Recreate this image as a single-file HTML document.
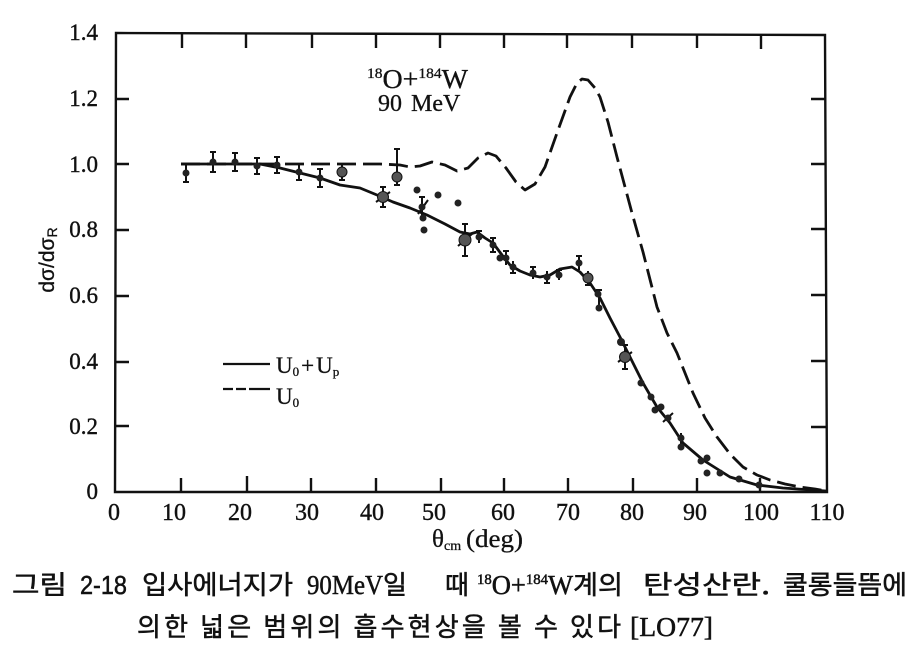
<!DOCTYPE html>
<html><head><meta charset="utf-8"><style>
html,body{margin:0;padding:0;background:#fff;}
svg{display:block;}
</style></head><body>
<svg width="911" height="647" viewBox="0 0 911 647" xmlns="http://www.w3.org/2000/svg">
<rect width="911" height="647" fill="#fff"/>
<!-- frame -->
<g fill="none" stroke="#111" stroke-width="2.4">
<path d="M116,33 L825,35 L827,492 L115,492 Z"/>
<path d="M182,34V48 M246,34V48 M312,34V48 M376,34V48 M440,34V48 M504,34V48 M567,34V48 M632,34V48 M697,34V48 M761,35V49"/>
<path d="M181,492V478 M247,492V476 M311,492V478 M376,492V478 M441,492V478 M504,492V478 M568,492V478 M633,492V478 M697,492V478 M760,492V478"/>
<path d="M116,99H129 M116,164H129 M116,230H129 M116,296H129 M116,362H129 M116,426H129"/>
<path d="M826,99H811 M826,164H811 M826,229H811 M826,295H811 M826,361H811 M826,427H811"/>
</g>
<!-- y tick labels -->
<g font-family="Liberation Serif, serif" font-size="23" fill="#111" stroke="#111" stroke-width="0.4" text-anchor="end">
<text x="98" y="40">1.4</text>
<text x="98" y="106">1.2</text>
<text x="98" y="172">1.0</text>
<text x="98" y="237">0.8</text>
<text x="98" y="303">0.6</text>
<text x="98" y="369">0.4</text>
<text x="98" y="434">0.2</text>
<text x="98" y="499">0</text>
</g>
<!-- x tick labels -->
<g font-family="Liberation Serif, serif" font-size="24" fill="#111" stroke="#111" stroke-width="0.4" text-anchor="middle">
<text x="114" y="520">0</text>
<text x="174" y="520">10</text>
<text x="240" y="520">20</text>
<text x="307" y="520">30</text>
<text x="372" y="520">40</text>
<text x="434" y="520">50</text>
<text x="503" y="520">60</text>
<text x="568" y="520">70</text>
<text x="632" y="520">80</text>
<text x="695" y="520">90</text>
<text x="761" y="520">100</text>
<text x="827" y="520">110</text>
</g>
<!-- axis labels -->
<text transform="translate(54,260) rotate(-90)" font-family="Liberation Sans, sans-serif" font-size="21" fill="#111" stroke="#111" stroke-width="0.3" text-anchor="middle">dσ/dσ<tspan font-size="14" dy="3">R</tspan></text>
<text x="432" y="547" font-family="Liberation Serif, serif" font-size="25" fill="#111" stroke="#111" stroke-width="0.3">θ<tspan font-size="14" dy="3">cm</tspan><tspan dy="-3" x="466" textLength="57" lengthAdjust="spacingAndGlyphs">(deg)</tspan></text>
<!-- annotation -->
<text x="367" y="88" font-family="Liberation Serif, serif" font-size="27" fill="#111" stroke="#111" stroke-width="0.3" textLength="101" lengthAdjust="spacingAndGlyphs"><tspan font-size="15" dy="-10">18</tspan><tspan dy="10">O+</tspan><tspan font-size="15" dy="-10">184</tspan><tspan dy="10">W</tspan></text>
<text x="378" y="111" font-family="Liberation Serif, serif" font-size="24" fill="#111" stroke="#111" stroke-width="0.3"><tspan>90</tspan><tspan x="411">MeV</tspan></text>
<!-- legend -->
<line x1="223" y1="364" x2="270" y2="364" stroke="#111" stroke-width="2.2"/>
<line x1="223" y1="389" x2="270" y2="389" stroke="#111" stroke-width="2.2" stroke-dasharray="10 3 10 3 30"/>
<text x="276" y="373" font-family="Liberation Serif, serif" font-size="23" fill="#111" stroke="#111" stroke-width="0.3">U<tspan font-size="13" dy="3">0</tspan><tspan dy="-3" dx="2">+</tspan><tspan dx="2">U</tspan><tspan font-size="13" dy="3">p</tspan></text>
<text x="276" y="404" font-family="Liberation Serif, serif" font-size="23" fill="#111" stroke="#111" stroke-width="0.3">U<tspan font-size="13" dy="3">0</tspan></text>
<!-- U0 dashed curve -->
<polyline fill="none" stroke="#111" stroke-width="2.8" stroke-dasharray="19 7" stroke-linejoin="round"
points="181,164 250,164 330,164 380,164 400,165 410,167 420,166 432,162 445,165 457,171 468,168 478,158 488,153 496,156 506,168 516,182 525,190 535,184 545,167 557,133 570,97 577,83 582,79 588,80 595,88 600,97 608,122 617,157 632,213 643,252 657,307 667,333 677,353 693,393 705,418 717,437 730,454 743,467 757,475 770,480 785,484 800,487 815,489 826,491"/>
<!-- U0+Up solid curve -->
<polyline fill="none" stroke="#111" stroke-width="2.8" stroke-linejoin="round"
points="181,164 260,164 280,168 300,173 320,178 340,185 360,188 377,195 393,202 410,208 427,215 445,224 460,232 470,234 477,232 485,238 493,243 502,255 510,265 520,271 530,275 540,277 550,275 560,269 572,267 580,272 590,283 600,298 610,318 620,337 633,363 643,383 657,407 670,423 683,443 703,460 730,477 757,485 783,488 826,491"/>
<!-- error bars -->
<g fill="none" stroke="#111" stroke-width="2">
<path d="M186,164V182M183,164H189M183,182H189
M213,152V172M210,152H216M210,172H216
M235,153V171M232,153H238M232,171H238
M257,158V174M254,158H260M254,174H260
M277,157V173M274,157H280M274,173H280
M299,164V180M296,164H302M296,180H302
M320,169V187M317,169H323M317,187H323
M342,164V180M339,164H345M339,180H345
M397,149V185M394,149H400M394,185H400
M383,187V207M380,187H386M380,207H386
M422,197V217M419,197H425
M465,224V256M462,224H468M462,256H468
M479,231V243M476,231H482
M493,238V252M490,238H496M490,252H496
M506,251V265M503,251H509
M513,261V273M510,273H516
M533,267V279M530,267H536
M547,271V283M544,283H550
M559,270V280M556,270H562
M579,256V270M576,256H582
M588,271V285M585,285H591
M599,290V310M596,290H602
M625,345V369M622,345H628M622,369H628
M681,433V448
M376,202L390,192 M418,214L428,200 M458,246L472,234 M618,362L632,352 M663,422L673,413"/>
</g>
<!-- data points -->
<g fill="#222">
<circle cx="186" cy="173" r="3.5"/><circle cx="213" cy="162" r="3.5"/><circle cx="235" cy="162" r="3.5"/>
<circle cx="257" cy="166" r="3.5"/><circle cx="277" cy="165" r="3.5"/><circle cx="299" cy="172" r="3.5"/>
<circle cx="320" cy="178" r="3.5"/>
<circle cx="417" cy="190" r="3.5"/><circle cx="422" cy="207" r="3.5"/><circle cx="423" cy="218" r="3.5"/>
<circle cx="424" cy="230" r="3.5"/><circle cx="438" cy="195" r="3.5"/><circle cx="458" cy="203" r="3.5"/>
<circle cx="479" cy="237" r="3.5"/><circle cx="493" cy="245" r="3.5"/><circle cx="500" cy="258" r="3.5"/>
<circle cx="506" cy="258" r="3.5"/><circle cx="513" cy="267" r="3.5"/><circle cx="533" cy="273" r="3.5"/>
<circle cx="547" cy="277" r="3.5"/><circle cx="559" cy="275" r="3.5"/><circle cx="579" cy="263" r="3.5"/>
<circle cx="598" cy="294" r="3.5"/><circle cx="599" cy="308" r="3.5"/><circle cx="621" cy="342" r="4"/>
<circle cx="641" cy="383" r="3.5"/><circle cx="651" cy="397" r="3.5"/><circle cx="655" cy="410" r="3.5"/>
<circle cx="661" cy="407" r="3.5"/><circle cx="668" cy="418" r="3.5"/><circle cx="681" cy="438" r="3.5"/>
<circle cx="681" cy="447" r="3.5"/><circle cx="701" cy="461" r="3.5"/><circle cx="707" cy="458" r="3.5"/>
<circle cx="707" cy="473" r="3.5"/><circle cx="720" cy="473" r="3.5"/><circle cx="739" cy="479" r="3.5"/>
<circle cx="759" cy="485" r="3.5"/>
</g>
<g fill="#555" stroke="#111" stroke-width="1">
<circle cx="342" cy="172" r="5"/><circle cx="397" cy="177" r="5"/><circle cx="383" cy="197" r="5.5"/>
<circle cx="465" cy="240" r="6"/><circle cx="588" cy="278" r="5"/><circle cx="625" cy="357" r="5.5"/>
</g>
<!-- caption line 1 -->
<g font-family="Liberation Sans, 'Noto Sans CJK KR', sans-serif" font-size="26" fill="#111" stroke="#111" stroke-width="0.5">
<text x="12" y="594" font-family="'Noto Sans CJK KR', sans-serif" textLength="55" lengthAdjust="spacingAndGlyphs">그림</text>
<text x="80" y="594" font-family="Liberation Sans, sans-serif" font-size="26" textLength="47" lengthAdjust="spacingAndGlyphs">2-18</text>
<text x="142" y="594" font-family="'Noto Sans CJK KR', sans-serif" textLength="151" lengthAdjust="spacingAndGlyphs">입사에너지가</text>
<text x="307" y="594" font-family="Liberation Serif, serif" font-size="27" textLength="76" lengthAdjust="spacingAndGlyphs">90MeV</text>
<text x="383" y="594" font-family="'Noto Sans CJK KR', sans-serif">일</text>
<text x="445" y="594" font-family="'Noto Sans CJK KR', sans-serif">때</text>
<text x="477" y="594" font-family="Liberation Serif, serif" font-size="27" textLength="96" lengthAdjust="spacingAndGlyphs"><tspan font-size="15" dy="-10">18</tspan><tspan dy="10">O+</tspan><tspan font-size="15" dy="-10">184</tspan><tspan dy="10">W</tspan></text>
<text x="573" y="594" font-family="'Noto Sans CJK KR', sans-serif" textLength="50" lengthAdjust="spacingAndGlyphs">계의</text>
<text x="643" y="594" font-family="'Noto Sans CJK KR', sans-serif" textLength="127" lengthAdjust="spacingAndGlyphs">탄성산란.</text>
<text x="783" y="594" font-family="'Noto Sans CJK KR', sans-serif" textLength="124" lengthAdjust="spacingAndGlyphs">쿨롱들뜸에</text>
<!-- caption line 2 -->
<text x="137" y="636" font-family="'Noto Sans CJK KR', sans-serif" textLength="484" lengthAdjust="spacing">의한 넓은 범위의 흡수현상을 볼 수 있다</text>
<text x="630" y="636" font-family="Liberation Serif, serif" font-size="27" textLength="83" lengthAdjust="spacingAndGlyphs">[LO77]</text>
</g>
</svg>
</body></html>
